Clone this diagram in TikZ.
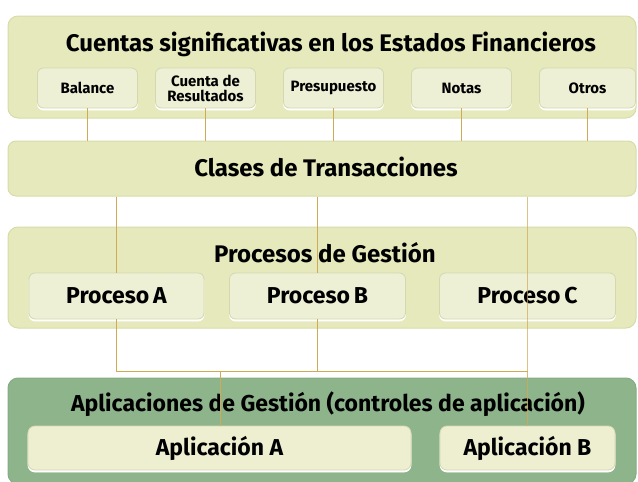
\documentclass[tikz,border=0pt]{standalone}
\usepackage{fontspec}
\setmainfont{Fira Sans}
\begin{document}
\begin{tikzpicture}[x=1pt,y=-1pt,
  panel/.style={draw=panelline, fill=panelfill, rounded corners=10pt, line width=1pt, inner sep=0pt},
  subbox/.style={draw=subline, fill=subfill, rounded corners=6pt, line width=0.8pt, inner sep=0pt, align=center, font=\bfseries\fontsize{15}{16}\selectfont,
     preaction={draw=white, fill=white, rounded corners=6pt, transform canvas={yshift=-2pt}}},
  procbox/.style={subbox, font=\bfseries\fontsize{23}{24}\selectfont},
  appbox/.style={draw=appline, fill=appfill, rounded corners=7pt, line width=0.8pt, inner sep=0pt, font=\bfseries\fontsize{23}{24}\selectfont,
     preaction={draw=white, fill=white, rounded corners=7pt, transform canvas={yshift=-2pt}}},
  title/.style={font=\bfseries\fontsize{24}{26}\selectfont, inner sep=0pt},
  conn/.style={draw=connc, line width=1.3pt}
]
\definecolor{panelfill}{HTML}{E6E9BB}
\definecolor{panelline}{HTML}{D8DCA9}
\definecolor{subfill}{HTML}{EEF0D6}
\definecolor{subline}{HTML}{D4D7B0}
\definecolor{greenfill}{HTML}{8EB48B}
\definecolor{greenline}{HTML}{86AC83}
\definecolor{appfill}{HTML}{EEEFD0}
\definecolor{appline}{HTML}{D6D8B4}
\definecolor{connc}{HTML}{D0AA55}

\useasboundingbox (0,0) rectangle (638,482);

% panels
\node[panel, minimum width=628pt, minimum height=102pt] (top) at (322,67) {};
\node[title] (toptitle) at (331,44) {Cuentas significativas en los Estados Financieros};
\node[subbox, minimum width=100pt, minimum height=40pt] (bal) at (87.5,88) {Balance};
\node[subbox, minimum width=100pt, minimum height=40pt] (cta) at (205.5,88) {Cuenta de\\[-1pt]Resultados};
\node[subbox, minimum width=100pt, minimum height=40pt] (pre) at (333.5,88) {Presupuesto};
\node[subbox, minimum width=100pt, minimum height=40pt] (not) at (461.5,88) {Notas};
\node[subbox, minimum width=96pt, minimum height=40pt] (otr) at (587.5,88) {Otros};

\node[panel, minimum width=628pt, minimum height=55pt, rounded corners=8pt] (clases) at (322,168.5) {};
\node[title] (clasest) at (326,167) {Clases de Transacciones};

\node[panel, minimum width=628pt, minimum height=101pt] (proc) at (322,277.5) {};
\node[title] (proct) at (325,253) {Procesos de Gestión};

\coordinate (hL) at (116.5,371.5);
\coordinate (hR) at (527.5,371.5);

\node[procbox, minimum width=175pt, minimum height=46pt] (pA) at (116.5,296) {Proceso\,A};
\node[procbox, minimum width=176pt, minimum height=46pt] (pB) at (317.5,296) {Proceso\,B};
\node[procbox, minimum width=176pt, minimum height=46pt] (pC) at (527.5,296) {Proceso\,C};

\node[draw=greenline, fill=greenfill, rounded corners=10pt, line width=1pt, inner sep=0pt, minimum width=628pt, minimum height=106pt] (app) at (322,431) {};
\node[title, font=\bfseries\fontsize{23}{26}\selectfont] (appt) at (328,404) {Aplicaciones de Gestión (controles de aplicación)};
\node[appbox, minimum width=383pt, minimum height=44pt] (aA) at (219.5,448) {Aplicación A};
\node[appbox, minimum width=175pt, minimum height=44pt] (aB) at (527.5,448) {Aplicación B};

\coordinate (aAt) at (220.5,426);

% connectors
\draw[conn] (bal.south) -- (bal.south |- clases.north);
\draw[conn] (cta.south) -- (cta.south |- clases.north);
\draw[conn] (pre.south) -- (pre.south |- clases.north);
\draw[conn] (not.south) -- (not.south |- clases.north);
\draw[conn] (otr.south) -- (otr.south |- clases.north);

\draw[conn] (pA.north |- clases.south) -- (pA.north);
\draw[conn] (pB.north |- clases.south) -- (pB.north);
\draw[conn, draw opacity=0.7] (pC.north |- clases.south) -- (hR);
\draw[conn] (pA.south) -- (hL) -- (hR);
\draw[conn] (pB.south) -- (pB.south |- hL);
\draw[conn] (aAt |- hL) -- (aAt);
\draw[conn, draw opacity=0.8] (hR) -- (aB.north);
\end{tikzpicture}
\end{document}
